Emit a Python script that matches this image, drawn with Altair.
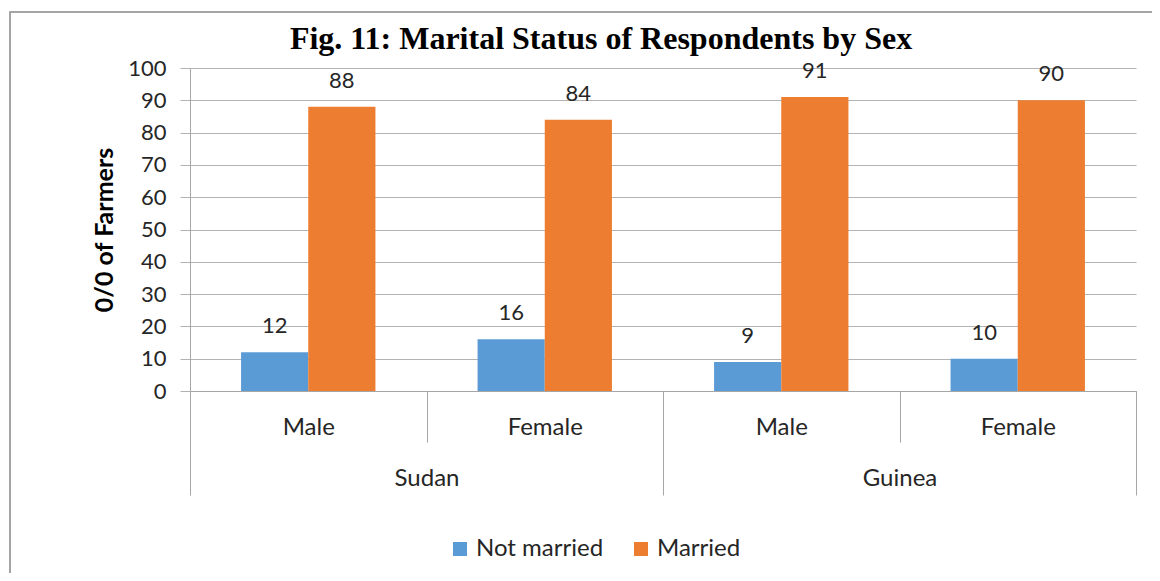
import altair as alt
import pandas as pd

# ---- data ----
countries = ["Sudan", "Sudan", "Guinea", "Guinea"]
sexes = ["Male", "Female", "Male", "Female"]
not_married = [12, 16, 9, 10]
married = [88, 84, 91, 90]
statuses = ["Not married", "Married"]
colors = ["#5b9bd5", "#ed7d31"]
country_order = ["Sudan", "Guinea"]
y_ticks = list(range(0, 101, 10))

keys = [f"{c}|{s}" for c, s in zip(countries, sexes)]
rows = []
for k, c, s, nm, m in zip(keys, countries, sexes, not_married, married):
    rows.append({"key": k, "country": c, "sex": s, "status": "Not married", "value": nm})
    rows.append({"key": k, "country": c, "sex": s, "status": "Married", "value": m})
df = pd.DataFrame(rows)
df_c = pd.DataFrame({"country": country_order})

GRID = "#b3b3b3"
AXIS = "#a6a6a6"
TXT = "#262626"

x_key = alt.X(
    "key:N",
    sort=keys,
    scale=alt.Scale(paddingInner=0, paddingOuter=0),
    axis=alt.Axis(
        title=None, labelExpr="split(datum.label, '|')[1]", labelAngle=0,
        tickBand="extent", tickSize=51, tickColor=AXIS, domainColor=AXIS,
        labelBaseline="alphabetic", labelPadding=-8, labelFontSize=24,
        labelFont="Lato", labelColor=TXT, grid=False,
    ),
)
x_off = alt.XOffset(
    "status:N", sort=statuses,
    scale=alt.Scale(paddingOuter=0.76, paddingInner=0),
)
y_enc = alt.Y(
    "value:Q",
    scale=alt.Scale(domain=[0, 100], nice=False),
    axis=alt.Axis(
        values=y_ticks, tickSize=10, tickColor=GRID, gridColor=GRID, grid=True,
        domainColor=AXIS, labelFontSize=22, labelFont="Lato", labelColor=TXT,
        labelPadding=14, labelOverlap=False, title="0/0 of Farmers",
        titleFontSize=25, titleFont="Lato", titleFontWeight="bold",
        titleColor="black", titlePadding=10,
    ),
)

bars = alt.Chart(df).mark_bar().encode(
    x=x_key,
    xOffset=x_off,
    y=y_enc,
    color=alt.Color(
        "status:N", sort=statuses,
        scale=alt.Scale(domain=statuses, range=colors),
        legend=alt.Legend(
            title=None, orient="none", direction="horizontal",
            legendX=258, legendY=469, symbolType="square", symbolSize=196,
            symbolStrokeWidth=0, labelFontSize=24, labelFont="Lato",
            labelColor=TXT, labelOffset=4, columnPadding=25,
        ),
    ),
)

labels = alt.Chart(df).mark_text(
    baseline="alphabetic", dy=-19, fontSize=22, font="Lato", color=TXT
).encode(
    x=x_key,
    xOffset=x_off,
    y=y_enc,
    text=alt.Text("value:Q"),
)

frame = alt.Chart(df_c).mark_rect(fillOpacity=0, stroke="#a0a0a0", strokeWidth=1.5).encode(
    x=alt.value(-180), x2=alt.value(990), y=alt.value(-56), y2=alt.value(540)
)

ghost = alt.Chart(df_c).mark_point(opacity=0).encode(
    x=alt.X(
        "country:N", sort=country_order,
        scale=alt.Scale(paddingInner=0, paddingOuter=0),
        axis=alt.Axis(
            title=None, orient="bottom", tickBand="extent", tickSize=104,
            tickColor=AXIS, domain=False, labelAngle=0,
            labelBaseline="alphabetic", labelPadding=-10, labelFontSize=24,
            labelFont="Lato", labelColor=TXT, grid=False,
        ),
    ),
    y=alt.value(0),
)

inner = alt.layer(bars, labels, frame)
chart = (
    alt.layer(inner, ghost)
    .resolve_scale(x="independent")
    .resolve_axis(x="independent")
    .properties(
        width=946, height=323,
        autosize=alt.AutoSizeParams(type="none"),
        padding={"left": 182, "top": 60, "right": 16, "bottom": 182},
        title=alt.TitleParams(
            "Fig. 11: Marital Status of Respondents by Sex",
            font="Liberation Serif", fontSize=32, fontWeight="bold",
            color="black", anchor="middle", frame="group", dx=-62,
            baseline="alphabetic", offset=-70,
        ),
    )
    .configure_view(stroke=None)
)

chart.save("out.html", embed_options={"renderer": "svg", "actions": False})
